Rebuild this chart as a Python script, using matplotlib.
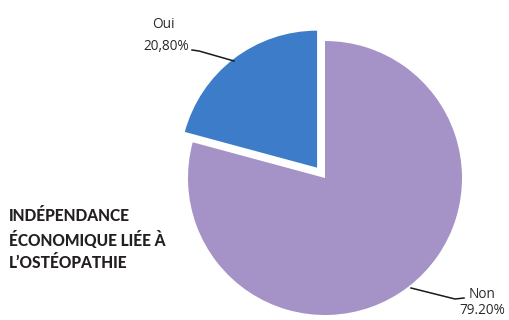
import matplotlib
matplotlib.use("Agg")
import matplotlib.pyplot as plt

labels = ["Oui", "Non"]
shares = [20.80, 79.20]
value_text = ["20,80%", "79.20%"]
colors = ["#3d7cc9", "#a593c8"]
title_lines = ["INDÉPENDANCE", "ÉCONOMIQUE LIÉE À", "L’OSTÉOPATHIE"]

W, H = 510, 320
fig = plt.figure(figsize=(W / 100, H / 100), dpi=100)
fig.patch.set_facecolor("white")

# pie centre and radius in pixels
cx, cy, r = 325, 178, 137
ax = fig.add_axes([(cx - r) / W, (H - cy - r) / H, 2 * r / W, 2 * r / H])

wedges, _ = ax.pie(shares, colors=colors, startangle=90, counterclock=True,
                   explode=[0.095, 0], radius=1,
                   wedgeprops=dict(linewidth=0))
for w in wedges:
    w.set_clip_on(False)
ax.set_aspect("auto")
ax.set_xlim(-1, 1)
ax.set_ylim(-1, 1)
ax.axis("off")

# overlay axes in pixel coordinates for labels and leader lines
ov = fig.add_axes([0, 0, 1, 1])
ov.set_xlim(0, W)
ov.set_ylim(H, 0)
ov.axis("off")
ov.patch.set_alpha(0)

lab_font = dict(family=["Open Sans", "DejaVu Sans"], fontsize=9.8, color="#2a2a2a")
ov.text(163, 25, labels[0], ha="center", va="center", **lab_font)
ov.text(166, 46, value_text[0], ha="center", va="center", **lab_font)
ov.plot([192, 199, 234], [50, 51, 61], color="#1a1a1a", lw=1.1)

ov.text(482, 294, labels[1], ha="center", va="center", **lab_font)
ov.text(482, 311, value_text[1], ha="center", va="center", **lab_font)
ov.plot([411, 455, 464], [288, 299, 298], color="#1a1a1a", lw=1.1)

for i, line in enumerate(title_lines):
    ov.text(9, 216 + i * 23.5, line, ha="left", va="center",
            family=["Lato", "DejaVu Sans"], fontweight="black",
            fontsize=11.2, color="#231f20")

fig.savefig("out.png", dpi=100, facecolor="white")
